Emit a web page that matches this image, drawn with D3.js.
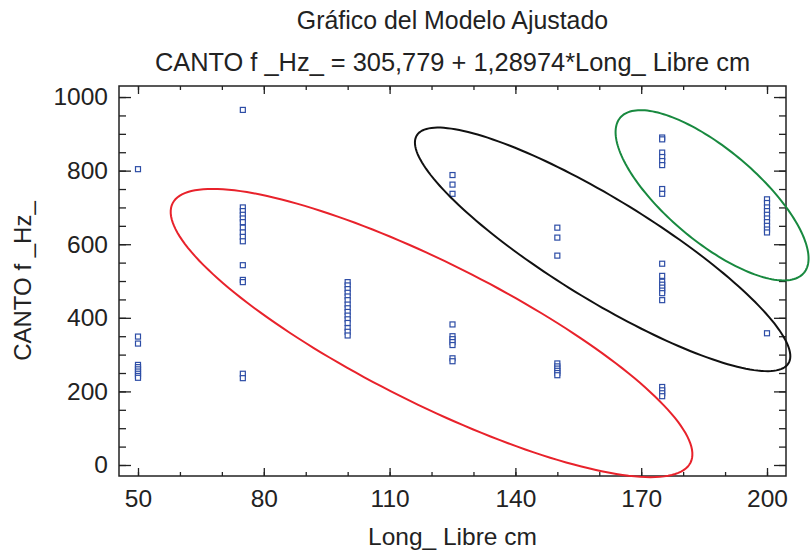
<!DOCTYPE html>
<html>
<head>
<meta charset="utf-8">
<script src="https://cdn.jsdelivr.net/npm/d3@7"></script>
<style>
  body { margin: 0; background: #fff; }
  svg text { font-family: "Liberation Sans", Arial, sans-serif; fill: #222; }
</style>
</head>
<body>
<svg id="chart" width="811" height="550"></svg>
<script>
// valores: CANTO f (Hz) por longitud libre (cm)
var canto50 = [804, 349, 330, 272, 266, 260, 254, 248, 242, 237]
var canto75 = [965, 700, 690, 680, 670, 660, 645, 632, 620, 608, 543, 503, 497, 248, 236]
var canto100 = [497, 488, 478, 468, 458, 448, 436, 426, 416, 406, 396, 386, 372, 362, 352]
var canto125 = [788, 762, 737, 382, 350, 342, 334, 326, 290, 282]
var canto150 = [645, 618, 569, 276, 268, 262, 256, 250, 244]
var canto175 = [890, 885, 849, 837, 826, 815, 750, 737, 547, 514, 498, 490, 482, 474, 467, 448, 212, 203, 195, 187]
var canto200 = [722, 712, 700, 690, 680, 670, 660, 650, 640, 632, 358]

var longitudes = [50, 75, 100, 125, 150, 175, 200]
var columnas = [canto50, canto75, canto100, canto125, canto150, canto175, canto200]

var xTicks = [50, 80, 110, 140, 170, 200]
var yTicks = [0, 200, 400, 600, 800, 1000]

// elipses marcadas a mano: centro y semiejes en unidades de los datos
var elipseRoja = { cx: 120, cy: 358.7, ux: 61.75, uy: -352.4, vx: -7.51, vy: -171, color: '#e8222b' }
var elipseNegra = { cx: 160.8, cy: 586, ux: 44.3, uy: -310, vx: -6.4, vy: -116, color: '#111111' }
var elipseVerde = { cx: 186.9, cy: 733, ux: 21.9, uy: -210.9, vx: -7.06, vy: -95.1, color: '#18893f' }
var elipses = [elipseRoja, elipseNegra, elipseVerde]

var LEFT = 119, RIGHT = 786, TOP = 86, BOTTOM = 476
var svg = d3.select('#chart')

var x = d3.scaleLinear().domain([45.47, 204.53]).range([LEFT, RIGHT])
var y = d3.scaleLinear().domain([-29.9, 1030]).range([BOTTOM, TOP])

var puntos = []
columnas.forEach(function(col, i) {
  col.forEach(function(v) { puntos.push({ x: longitudes[i], y: v }) })
})

// ticks menores
var xMinor = d3.range(50, 201, 10)
var yMinor = d3.range(0, 1001, 50)

function noLabels(axis) { return axis.tickFormat('') }

svg.append('g').attr('transform', 'translate(0,' + BOTTOM + ')')
  .call(noLabels(d3.axisBottom(x).tickValues(xMinor).tickSize(-4)))
svg.append('g').attr('transform', 'translate(0,' + TOP + ')')
  .call(noLabels(d3.axisTop(x).tickValues(xMinor).tickSize(-4)))
svg.append('g').attr('transform', 'translate(' + LEFT + ',0)')
  .call(noLabels(d3.axisLeft(y).tickValues(yMinor).tickSize(-7)))
svg.append('g').attr('transform', 'translate(' + RIGHT + ',0)')
  .call(noLabels(d3.axisRight(y).tickValues(yMinor).tickSize(-7)))

// ticks mayores
var xAxis = svg.append('g').attr('transform', 'translate(0,' + BOTTOM + ')')
  .call(d3.axisBottom(x).tickValues(xTicks).tickSize(-8).tickPadding(14).tickFormat(d3.format('d')))
svg.append('g').attr('transform', 'translate(0,' + TOP + ')')
  .call(noLabels(d3.axisTop(x).tickValues(xTicks).tickSize(-8)))
var yAxis = svg.append('g').attr('transform', 'translate(' + LEFT + ',0)')
  .call(d3.axisLeft(y).tickValues(yTicks).tickSize(-12).tickPadding(11).tickFormat(d3.format('d')))
svg.append('g').attr('transform', 'translate(' + RIGHT + ',0)')
  .call(noLabels(d3.axisRight(y).tickValues(yTicks).tickSize(-12)))

svg.selectAll('.domain').remove()
svg.selectAll('.tick line').attr('stroke', '#222').attr('stroke-width', 1.3)
xAxis.selectAll('text').attr('font-size', 24.5).attr('fill', '#222')
yAxis.selectAll('text').attr('font-size', 24.5).attr('fill', '#222')

svg.append('rect')
  .attr('x', LEFT).attr('y', TOP)
  .attr('width', RIGHT - LEFT).attr('height', BOTTOM - TOP)
  .attr('fill', 'none').attr('stroke', '#222').attr('stroke-width', 1.5)

// puntos
svg.append('g').selectAll('rect')
  .data(puntos)
  .enter().append('rect')
  .attr('x', function(d) { return x(d.x) - 2.5 })
  .attr('y', function(d) { return y(d.y) - 2.5 })
  .attr('width', 5).attr('height', 5)
  .attr('fill', '#fff')
  .attr('stroke', '#2d4da6')
  .attr('stroke-width', 1.2)

// elipses
var angulos = d3.range(0, 2 * Math.PI + 0.001, Math.PI / 90)
var linea = d3.line()
  .x(function(d) { return x(d[0]) })
  .y(function(d) { return y(d[1]) })
  .curve(d3.curveLinearClosed)

elipses.forEach(function(e) {
  var pts = angulos.map(function(t) {
    return [e.cx + e.ux * Math.cos(t) + e.vx * Math.sin(t), e.cy + e.uy * Math.cos(t) + e.vy * Math.sin(t)]
  })
  svg.append('path')
    .attr('d', linea(pts))
    .attr('fill', 'none')
    .attr('stroke', e.color)
    .attr('stroke-width', 2)
})

// textos
var midX = (LEFT + RIGHT) / 2
svg.append('text').attr('x', midX).attr('y', 29)
  .attr('text-anchor', 'middle').attr('font-size', 24.9)
  .text('Gráfico del Modelo Ajustado')
svg.append('text').attr('x', midX).attr('y', 71)
  .attr('text-anchor', 'middle').attr('font-size', 25.4)
  .text('CANTO f _Hz_ = 305,779 + 1,28974*Long_ Libre cm')
svg.append('text').attr('x', midX).attr('y', 545)
  .attr('text-anchor', 'middle').attr('font-size', 24.5)
  .text('Long_ Libre cm')
svg.append('text')
  .attr('transform', 'translate(31,' + ((TOP + BOTTOM) / 2) + ') rotate(-90)')
  .attr('text-anchor', 'middle').attr('font-size', 24)
  .text('CANTO f _Hz_')
</script>
</body>
</html>
